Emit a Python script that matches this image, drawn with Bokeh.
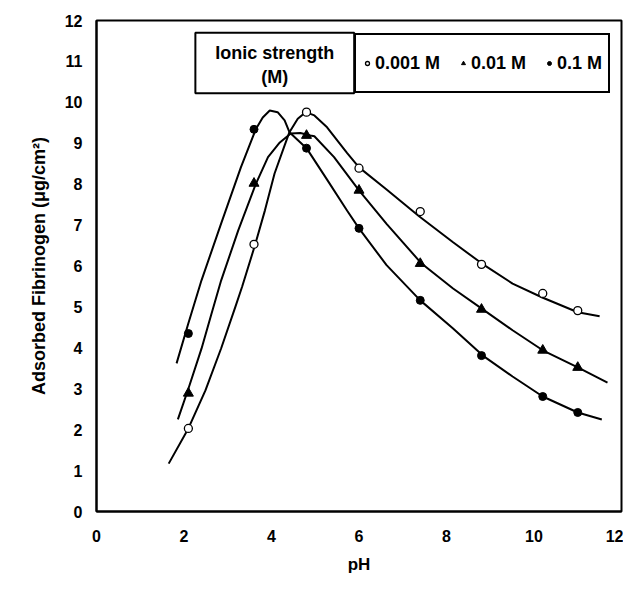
from bokeh.plotting import figure
from bokeh.models import Range1d, FixedTicker, Legend, LegendItem, BoxAnnotation, Label
from bokeh.embed import file_html
from bokeh.resources import INLINE

# ---- data ----
ph_points = [2.1, 3.6, 4.8, 6.0, 7.4, 8.8, 10.2, 11.0]
ads_0001 = [2.03, 6.53, 9.76, 8.39, 7.33, 6.04, 5.33, 4.91]
ads_001 = [2.89, 8.02, 9.19, 7.85, 6.06, 4.94, 3.94, 3.52]
ads_01 = [4.35, 9.34, 8.88, 6.92, 5.16, 3.81, 2.81, 2.42]

# fitted curves
fit_0001_ph = [1.65, 2.1, 2.49, 2.85, 3.17, 3.33, 3.62, 3.85, 4.07, 4.3, 4.41, 4.6, 4.78,
               4.98, 5.27, 5.73, 6.0, 6.63, 7.38, 8.15, 8.81, 9.51, 10.19, 11.0, 11.5]
fit_0001_val = [1.17, 2.03, 2.96, 3.99, 4.99, 5.5, 6.5, 7.36, 8.26, 8.95, 9.27, 9.6, 9.76,
                9.68, 9.39, 8.76, 8.41, 7.87, 7.21, 6.58, 6.06, 5.57, 5.23, 4.87, 4.77]

fit_001_ph = [1.86, 2.1, 2.4, 2.63, 2.85, 3.24, 3.64, 3.92, 4.19, 4.44, 4.66, 4.89, 4.98,
              5.43, 6.0, 6.63, 7.43, 8.15, 8.83, 9.51, 10.2, 11.0, 11.68]
fit_001_val = [2.25, 3.0, 3.98, 4.84, 5.65, 6.87, 8.0, 8.66, 9.02, 9.24, 9.25, 9.19, 9.17,
               8.66, 7.85, 7.03, 6.06, 5.45, 4.94, 4.43, 3.94, 3.52, 3.15]

fit_01_ph = [1.83, 2.1, 2.4, 2.85, 3.3, 3.64, 3.8, 3.96, 4.14, 4.3, 4.41, 4.8, 5.27, 5.73,
             6.0, 6.63, 7.4, 8.15, 8.83, 9.51, 10.2, 11.0, 11.55]
fit_01_val = [3.62, 4.6, 5.65, 7.04, 8.41, 9.34, 9.63, 9.8, 9.76, 9.56, 9.27, 8.88, 8.11, 7.35,
              6.92, 6.02, 5.16, 4.47, 3.81, 3.3, 2.81, 2.42, 2.25]

x_ticks = [0, 2, 4, 6, 8, 10, 12]
y_ticks = list(range(0, 13))
series_labels = ["0.001 M", "0.01 M", "0.1 M"]
legend_title_lines = ["Ionic strength", "(M)"]

FONT = "Liberation Sans"

p = figure(width=623, height=579, output_backend="svg", toolbar_location=None,
           x_range=Range1d(0, 12), y_range=Range1d(0, 12),
           min_border_left=96, min_border_right=2, min_border_top=20, min_border_bottom=68)
p.background_fill_color = "white"
p.border_fill_color = "white"
p.grid.visible = False
p.outline_line_color = "black"
p.outline_line_width = 2
p.outline_line_alpha = 1.0

for ax in (p.xaxis[0], p.yaxis[0]):
    ax.axis_line_width = 2
    ax.axis_line_color = "black"
    ax.major_tick_in = 0
    ax.major_tick_out = 0
    ax.minor_tick_in = 0
    ax.minor_tick_out = 0
    ax.major_label_text_font = FONT
    ax.major_label_text_font_style = "bold"
    ax.major_label_text_font_size = "16px"
    ax.major_label_text_color = "black"
    ax.axis_label_text_font = FONT
    ax.axis_label_text_font_style = "bold"
    ax.axis_label_text_font_size = "17px"
    ax.axis_label_text_color = "black"

p.yaxis[0].axis_label_text_font_size = "18px"
p.xaxis[0].ticker = FixedTicker(ticks=x_ticks)
p.yaxis[0].ticker = FixedTicker(ticks=y_ticks)
p.xaxis[0].major_label_standoff = 18
p.yaxis[0].major_label_standoff = 14
p.xaxis[0].axis_label = "pH"
p.yaxis[0].axis_label = "Adsorbed Fibrinogen (μg/cm²)"
p.xaxis[0].axis_label_standoff = 10
p.yaxis[0].axis_label_standoff = 13

# curves
p.line(fit_0001_ph, fit_0001_val, line_color="black", line_width=2)
p.line(fit_001_ph, fit_001_val, line_color="black", line_width=2)
p.line(fit_01_ph, fit_01_val, line_color="black", line_width=2)

# points
r1 = p.scatter(ph_points, ads_0001, marker="circle", size=8, fill_color="white",
               line_color="black", line_width=1.3)
r2 = p.scatter(ph_points, ads_001, marker="triangle", size=10, fill_color="black",
               line_color="black")
r3 = p.scatter(ph_points, ads_01, marker="circle", size=8, fill_color="black",
               line_color="black")

# legend title box (left box)
title_box = BoxAnnotation(left=2.26, right=5.89, top=11.7, bottom=10.22,
                          fill_color="white", fill_alpha=1.0,
                          line_color="black", line_alpha=1.0, line_width=2)
p.add_layout(title_box)
for txt, yy in zip(legend_title_lines, [11.2, 10.61]):
    p.add_layout(Label(x=4.075, y=yy, text=txt, text_align="center", text_baseline="middle",
                       text_font=FONT, text_font_style="bold", text_font_size="18px",
                       text_color="black"))

legend = Legend(items=[LegendItem(label=series_labels[0], renderers=[r1]),
                       LegendItem(label=series_labels[1], renderers=[r2]),
                       LegendItem(label=series_labels[2], renderers=[r3])],
                orientation="horizontal", location=(258, 418), margin=0,
                padding=6, spacing=18, glyph_width=10, glyph_height=44,
                label_height=44, label_standoff=3,
                label_text_font=FONT, label_text_font_style="bold",
                label_text_font_size="18px", label_text_color="black",
                border_line_color="black", border_line_alpha=1.0, border_line_width=2,
                background_fill_color="white", background_fill_alpha=1.0)
p.add_layout(legend, "center")

open("out.html", "w").write(file_html(p, INLINE))
